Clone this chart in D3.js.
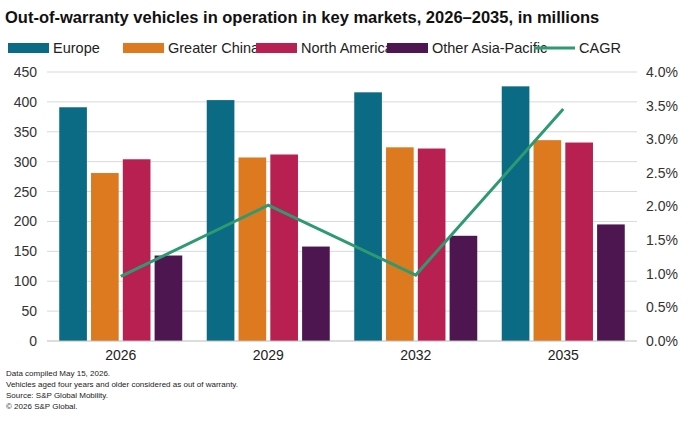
<!DOCTYPE html>
<html><head><meta charset="utf-8">
<script src="https://cdn.jsdelivr.net/npm/d3@7"></script>
<style>body{margin:0;background:#fff;font-family:Arial,"Liberation Sans",sans-serif}</style>
</head><body><div id="plot"></div>
<script>
const years = ["2026", "2029", "2032", "2035"];
const seriesNames = ["Europe", "Greater China", "North America", "Other Asia-Pacific"];
const europe = [391, 403, 416, 426];
const greaterChina = [281, 307, 324, 336];
const northAmerica = [304, 312, 322, 332];
const otherAPAC = [143, 158, 176, 195];
const cagr = [0.96, 2.02, 0.98, 3.45];
const leftTicks = [0, 50, 100, 150, 200, 250, 300, 350, 400, 450];
const rightTicks = [0, 0.5, 1, 1.5, 2, 2.5, 3, 3.5, 4];
const colors = ["#0b6a84", "#dd7a20", "#b82052", "#4d1650"];
const lineColor = "#2e9a72";

const values = [europe, greaterChina, northAmerica, otherAPAC];
const width = 694, height = 423;
const margin = {top: 72, right: 57, bottom: 82, left: 47};

const svg = d3.select("#plot").append("svg").attr("width", width).attr("height", height);

svg.append("text").attr("x", 5).attr("y", 23)
  .style("font-size", "16.5px").style("font-weight", "bold").attr("fill", "#111")
  .text("Out-of-warranty vehicles in operation in key markets, 2026\u20132035, in millions");

const x0 = d3.scaleBand().domain(years).range([margin.left, width - margin.right])
  .paddingInner(0.11).paddingOuter(0.055);
const x1 = d3.scaleBand().domain(seriesNames).range([0, x0.bandwidth()]).padding(0.13);
const y = d3.scaleLinear().domain([0, 450]).range([height - margin.bottom, margin.top]);
const y2 = d3.scaleLinear().domain([0, 4]).range([height - margin.bottom, margin.top]);

svg.append("g").selectAll("line").data(leftTicks.slice(1)).join("line")
  .attr("x1", margin.left).attr("x2", width - margin.right)
  .attr("y1", d => y(d)).attr("y2", d => y(d))
  .attr("stroke", "#d9d9d9").attr("stroke-width", 1);

const yAxis = svg.append("g").attr("transform", `translate(${margin.left - 4},0)`)
  .call(d3.axisLeft(y).tickValues(leftTicks).tickSize(0).tickPadding(6));
yAxis.select(".domain").remove();
yAxis.selectAll("text").style("font-size", "14px").attr("fill", "#333").style("font-family", "Arial,'Liberation Sans'");

const y2Axis = svg.append("g").attr("transform", `translate(${width - margin.right + 6},0)`)
  .call(d3.axisRight(y2).tickValues(rightTicks).tickSize(0).tickFormat(d => d.toFixed(1) + "%"));
y2Axis.select(".domain").remove();
y2Axis.selectAll("text").style("font-size", "14px").attr("fill", "#333").style("font-family", "Arial,'Liberation Sans'");

years.forEach((yr, i) => {
  const g = svg.append("g").attr("transform", `translate(${x0(yr)},0)`);
  seriesNames.forEach((s, j) => {
    g.append("rect").attr("x", x1(s)).attr("width", x1.bandwidth())
      .attr("y", y(values[j][i])).attr("height", y(0) - y(values[j][i]))
      .attr("fill", colors[j]);
  });
});

svg.append("line").attr("x1", margin.left).attr("x2", width - margin.right)
  .attr("y1", y(0)).attr("y2", y(0)).attr("stroke", "#bbb");

const xAxis = svg.append("g").attr("transform", `translate(0,${y(0)})`)
  .call(d3.axisBottom(x0).tickSize(0).tickPadding(9));
xAxis.select(".domain").remove();
xAxis.selectAll("text").style("font-size", "14px").attr("fill", "#222").style("font-family", "Arial,'Liberation Sans'");

const line = d3.line().x((d, i) => x0(years[i]) + x0.bandwidth() / 2).y(d => y2(d));
svg.append("path").datum(cagr).attr("d", line).attr("fill", "none")
  .attr("stroke", lineColor).attr("stroke-width", 3);

// legend
const legendItems = seriesNames.map((s, i) => ({name: s, color: colors[i], type: "rect"}))
  .concat([{name: "CAGR", color: lineColor, type: "line"}]);
const legendX = [8, 123, 256, 387, 534];
legendItems.forEach((d, i) => {
  const g = svg.append("g").attr("transform", `translate(${legendX[i]},40)`);
  if (d.type === "rect") g.append("rect").attr("width", 41).attr("height", 10).attr("y", 3).attr("fill", d.color);
  else g.append("line").attr("x1", 0).attr("x2", 41).attr("y1", 8).attr("y2", 8).attr("stroke", d.color).attr("stroke-width", 3);
  g.append("text").attr("x", 45).attr("y", 13).style("font-size", "14.5px").attr("fill", "#222").text(d.name);
});

const notes = ["Data compiled May 15, 2026.", "Vehicles aged four years and older considered as out of warranty.",
  "Source: S&P Global Mobility.", "\u00a9 2026 S&P Global."];
svg.append("g").selectAll("text").data(notes).join("text")
  .attr("x", 6).attr("y", (d, i) => 376 + i * 11)
  .style("font-size", "8px").attr("fill", "#222").text(d => d);
</script>
</body></html>
